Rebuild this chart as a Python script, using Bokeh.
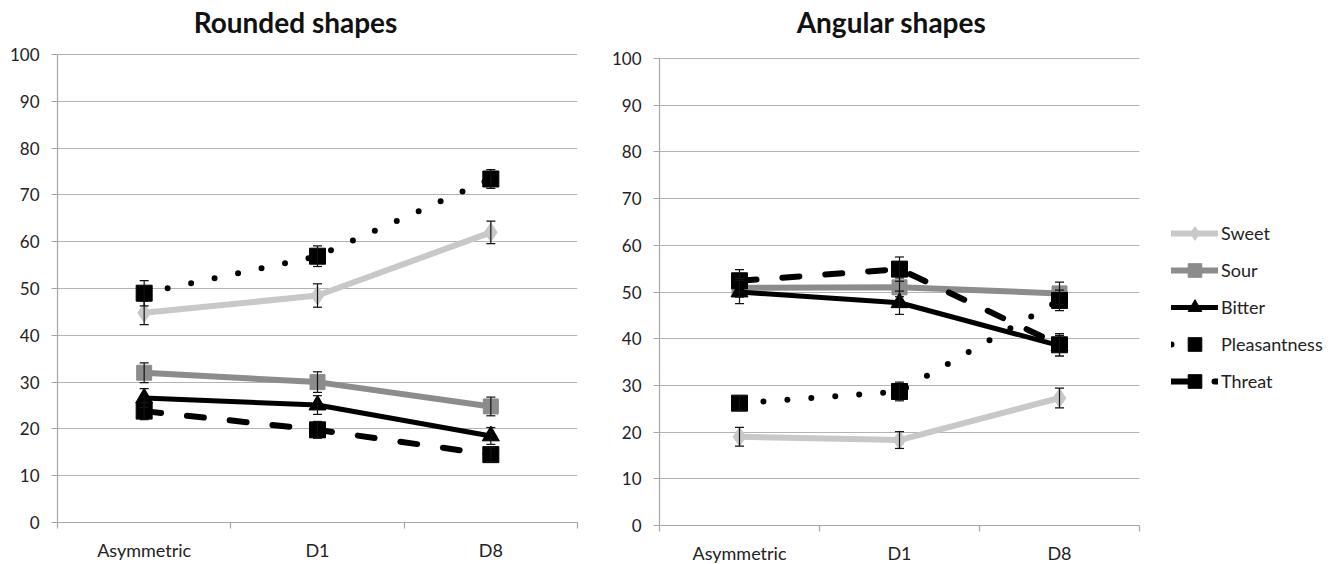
from bokeh.plotting import figure
from bokeh.models import (FactorRange, Range1d, LinearAxis, CategoricalAxis, FixedTicker,
                          ColumnDataSource, Whisker, TeeHead, Legend, LegendItem,
                          Label, Grid)
from bokeh.layouts import row
from bokeh.embed import file_html
from bokeh.resources import INLINE

# ---------------- data ----------------
conditions = ["Asymmetric", "D1", "D8"]
series_names = ["Sweet", "Sour", "Bitter", "Pleasantness", "Threat"]

rounded_sweet = [44.8, 48.5, 62.0]
rounded_sour = [32.0, 30.0, 24.8]
rounded_bitter = [26.6, 25.1, 18.5]
rounded_pleasantness = [49.0, 56.9, 73.4]
rounded_threat = [23.8, 19.8, 14.5]

rounded_sweet_err = [2.5, 2.5, 2.4]
rounded_sour_err = [2.1, 2.2, 2.0]
rounded_bitter_err = [2.0, 2.0, 1.8]
rounded_pleasantness_err = [2.7, 2.2, 2.0]
rounded_threat_err = [1.8, 1.8, 1.5]

angular_sweet = [19.0, 18.3, 27.3]
angular_sour = [50.9, 51.0, 49.7]
angular_bitter = [50.0, 47.7, 38.5]
angular_pleasantness = [26.2, 28.7, 48.2]
angular_threat = [52.4, 54.9, 38.7]

angular_sweet_err = [2.0, 1.8, 2.1]
angular_sour_err = [2.0, 2.0, 2.4]
angular_bitter_err = [2.5, 2.5, 2.2]
angular_pleasantness_err = [1.5, 2.0, 2.2]
angular_threat_err = [2.4, 2.6, 2.4]

y_ticks = [0, 10, 20, 30, 40, 50, 60, 70, 80, 90, 100]

# ---------------- styles ----------------
FONT = "Lato"
TXT = "#222222"
AXIS_GRAY = "#a6a6a6"
GRID_GRAY = "#b3b3b3"

styles = {
    "Sweet": dict(color="#c8c8c8", width=6, dash="solid", marker="diamond", size=19),
    "Sour": dict(color="#8c8c8c", width=6, dash="solid", marker="square", size=15),
    "Bitter": dict(color="#000000", width=5, dash="solid", marker="triangle", size=17),
    "Pleasantness": dict(color="#000000", width=6, dash="0 24", marker="square", size=16),
    "Threat": dict(color="#000000", width=6, dash="17 26", marker="square", size=16),
}


def make_panel(title, values, errors, frame_w, frame_h, y_end, border_left, border_right,
               title_x, title_y):
    p = figure(x_range=FactorRange(*conditions), y_range=Range1d(0, y_end),
               x_axis_type=None, y_axis_type=None,
               frame_width=frame_w, frame_height=frame_h,
               min_border_left=border_left, min_border_top=5,
               min_border_right=border_right, min_border_bottom=5,
               output_backend="svg", toolbar_location=None)
    p.outline_line_color = None
    p.background_fill_color = "white"
    p.border_fill_color = "white"

    # axis carrying tick marks at the category boundaries (synthetic coords 0..n)
    edge_ticks = list(range(len(conditions) + 1))
    edge_axis = LinearAxis(ticker=FixedTicker(ticks=edge_ticks),
                           major_label_overrides={t: "" for t in edge_ticks},
                           major_label_text_font_size="2px", major_label_standoff=0,
                           major_tick_out=6, major_tick_in=0, minor_tick_line_color=None,
                           axis_line_color=AXIS_GRAY, major_tick_line_color=AXIS_GRAY,
                           axis_line_width=1.2, major_tick_line_width=1.2)
    p.add_layout(edge_axis, "below")
    cat_axis = CategoricalAxis(axis_line_color=None, major_tick_line_color=None,
                               minor_tick_line_color=None,
                               major_label_text_font=FONT, major_label_text_font_size="18px",
                               major_label_text_color=TXT, major_label_standoff=4)
    p.add_layout(cat_axis, "below")

    yaxis = LinearAxis(ticker=FixedTicker(ticks=y_ticks), minor_tick_line_color=None,
                       bounds=(0, 100),
                       major_tick_out=6, major_tick_in=0,
                       axis_line_color=AXIS_GRAY, major_tick_line_color=AXIS_GRAY,
                       axis_line_width=1.2, major_tick_line_width=1.2,
                       major_label_text_font=FONT, major_label_text_font_size="17px",
                       major_label_text_color=TXT, major_label_standoff=12)
    p.add_layout(yaxis, "left")
    p.add_layout(Grid(dimension=1, ticker=FixedTicker(ticks=y_ticks),
                      grid_line_color=GRID_GRAY, grid_line_width=1.2))

    p.add_layout(Label(text=title, x=title_x, y=title_y, x_units="screen",
                       y_units="data", text_align="center", text_baseline="middle",
                       text_font=FONT, text_font_size="28px", text_font_style="bold",
                       text_color="#111111"))

    items = []
    for name in series_names:
        st = styles[name]
        vals = values[name]
        errs = errors[name]
        src = ColumnDataSource(dict(x=conditions, y=vals,
                                    lower=[v - e for v, e in zip(vals, errs)],
                                    upper=[v + e for v, e in zip(vals, errs)]))
        lr = p.line("x", "y", source=src, line_color=st["color"], line_width=st["width"],
                    line_dash=st["dash"], line_cap="round", line_join="round")
        wh = Whisker(base="x", lower="lower", upper="upper", source=src, dimension="height",
                     line_color="#111111", line_width=1.2, level="glyph",
                     upper_head=TeeHead(size=9, line_color="#111111", line_width=1.2),
                     lower_head=TeeHead(size=9, line_color="#111111", line_width=1.2))
        p.add_layout(wh)
        sr = p.scatter("x", "y", source=src, marker=st["marker"], size=st["size"],
                       fill_color=st["color"], line_color=st["color"])
        items.append(LegendItem(label=name, renderers=[lr, sr]))
    return p, items


rounded_vals = dict(Sweet=rounded_sweet, Sour=rounded_sour, Bitter=rounded_bitter,
                    Pleasantness=rounded_pleasantness, Threat=rounded_threat)
rounded_errs = dict(Sweet=rounded_sweet_err, Sour=rounded_sour_err, Bitter=rounded_bitter_err,
                    Pleasantness=rounded_pleasantness_err, Threat=rounded_threat_err)
angular_vals = dict(Sweet=angular_sweet, Sour=angular_sour, Bitter=angular_bitter,
                    Pleasantness=angular_pleasantness, Threat=angular_threat)
angular_errs = dict(Sweet=angular_sweet_err, Sour=angular_sour_err, Bitter=angular_bitter_err,
                    Pleasantness=angular_pleasantness_err, Threat=angular_threat_err)

p1, _ = make_panel("Rounded shapes", rounded_vals, rounded_errs, 520, 517, 110.47, 57, 31,
                   238, 107.05)
p2, items = make_panel("Angular shapes", angular_vals, angular_errs, 480, 520, 111.35, 50, 190,
                       232, 107.92)

legend = Legend(items=items, location=(32, 127), glyph_width=47, glyph_height=34,
                spacing=3, label_standoff=3, padding=0, margin=0,
                border_line_color=None, background_fill_alpha=0,
                label_text_font=FONT, label_text_font_size="18px", label_text_color=TXT)
p2.add_layout(legend, "right")

layout = row(p1, p2, spacing=0)
open("out.html", "w").write(file_html(layout, INLINE))
